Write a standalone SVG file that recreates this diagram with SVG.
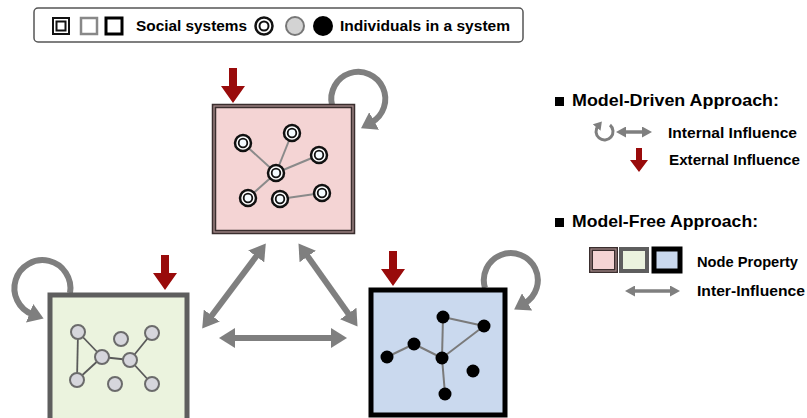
<svg xmlns="http://www.w3.org/2000/svg" width="807" height="418" viewBox="0 0 807 418">
<defs>
<style>
text{font-family:"Liberation Sans",Arial,sans-serif;font-weight:bold;fill:#000}
.lt{font-size:15.5px}
.hd{font-size:17px}
.ll{font-size:15px}
.inter{stroke:#7f7f7f;stroke-width:6;fill:none;marker-start:url(#bigHead);marker-end:url(#bigHead)}
.small{stroke:#7f7f7f;stroke-width:3.5;fill:none;marker-start:url(#smHead);marker-end:url(#smHead)}
.loop{stroke:#7f7f7f;stroke-width:6;fill:none;marker-end:url(#loopHead)}
.pe{stroke:#8a8a8a;stroke-width:2}
.ge{stroke:#5a5a5a;stroke-width:1.8}
.be{stroke:#7a7a7a;stroke-width:2}
.gn{fill:#d6d6dc;stroke:#6b6b6b;stroke-width:2}
.bn{fill:#000}
.red{fill:#990b0b}
</style>
<marker id="bigHead" viewBox="0 0 16 20" refX="3" refY="10" markerWidth="16" markerHeight="20" markerUnits="userSpaceOnUse" orient="auto-start-reverse"><path d="M0,0 L16,10 L0,20 Z" fill="#7f7f7f"/></marker>
<marker id="smHead" viewBox="0 0 10 11" refX="2" refY="5.5" markerWidth="10" markerHeight="11" markerUnits="userSpaceOnUse" orient="auto-start-reverse"><path d="M0,0 L10,5.5 L0,11 Z" fill="#7f7f7f"/></marker>
<marker id="loopHead" viewBox="0 0 15 20" refX="3" refY="10" markerWidth="15" markerHeight="20" markerUnits="userSpaceOnUse" orient="auto"><path d="M0,0 L15,10 L0,20 Z" fill="#7f7f7f"/></marker>
<marker id="tinyHead" viewBox="0 0 8 10" refX="2" refY="5" markerWidth="8" markerHeight="10" markerUnits="userSpaceOnUse" orient="auto"><path d="M0,0 L8,5 L0,10 Z" fill="#7f7f7f"/></marker>
<path id="redArrow" d="M-4,-35 L4,-35 L4,-17 L12,-17 L0,0 L-12,-17 L-4,-17 Z"/>
<g id="dbl"><circle r="8" fill="#fff" stroke="#111" stroke-width="2.5"/><circle r="4.3" fill="#f4fbff" stroke="#111" stroke-width="1.8"/></g>
</defs>

<!-- top legend -->
<g id="legend-top">
<rect x="34" y="8" width="489" height="34" rx="4" fill="#fff" stroke="#555" stroke-width="1.5"/>
<rect x="53" y="18" width="16" height="16" fill="none" stroke="#111" stroke-width="2"/>
<rect x="56.5" y="21.5" width="9" height="9" fill="none" stroke="#111" stroke-width="2"/>
<rect x="81" y="18" width="16" height="16" fill="none" stroke="#888" stroke-width="2.5"/>
<rect x="106" y="18" width="16" height="16" fill="none" stroke="#000" stroke-width="3"/>
<text class="lt" x="136" y="31" textLength="111" lengthAdjust="spacingAndGlyphs">Social systems</text>
<circle cx="264" cy="26" r="8.5" fill="#fff" stroke="#111" stroke-width="2.5"/>
<circle cx="264" cy="26" r="4.5" fill="#fff" stroke="#111" stroke-width="2"/>
<circle cx="295" cy="26" r="9" fill="#d3d3d3" stroke="#777" stroke-width="2"/>
<circle cx="323" cy="26" r="10" fill="#000"/>
<text class="lt" x="340" y="31" textLength="170" lengthAdjust="spacingAndGlyphs">Individuals in a system</text>
</g>

<!-- connectors -->
<g id="connectors">
<path class="inter" d="M210,318 L258,254"/>
<path class="inter" d="M306,254 L350,316"/>
<path class="inter" d="M232,338 L334,338"/>
</g>

<!-- pink system -->
<g id="system-pink">
<path class="loop" d="M332,105 A27,27 0 1 1 371.5,122.4"/>
<rect x="214" y="106" width="139" height="126" fill="#f4d4d4" stroke="#3a2e2e" stroke-width="4.5"/>
<rect x="214" y="106" width="139" height="126" fill="none" stroke="#a58a8a" stroke-width="1.3"/>
<use href="#redArrow" class="red" x="233" y="103"/>
<line class="pe" x1="276" y1="173" x2="243" y2="143"/>
<line class="pe" x1="276" y1="173" x2="292" y2="133"/>
<line class="pe" x1="276" y1="173" x2="319" y2="155"/>
<line class="pe" x1="276" y1="173" x2="248" y2="198"/>
<line class="pe" x1="280" y1="199" x2="322" y2="193"/>
<use href="#dbl" x="243" y="143"/>
<use href="#dbl" x="292" y="133"/>
<use href="#dbl" x="319" y="155"/>
<use href="#dbl" x="276" y="173"/>
<use href="#dbl" x="248" y="198"/>
<use href="#dbl" x="280" y="199"/>
<use href="#dbl" x="322" y="193"/>
</g>

<!-- green system -->
<g id="system-green">
<path class="loop" d="M70,293 A28,28 0 1 0 32.4,314.3"/>
<rect x="50" y="295" width="137" height="130" fill="#ebf3de" stroke="#5e5e5e" stroke-width="5"/>
<use href="#redArrow" class="red" x="165" y="290"/>
<line class="ge" x1="78" y1="332" x2="77" y2="380"/>
<line class="ge" x1="78" y1="332" x2="102" y2="357"/>
<line class="ge" x1="77" y1="380" x2="102" y2="357"/>
<line class="ge" x1="102" y1="357" x2="130" y2="360"/>
<line class="ge" x1="130" y1="360" x2="152" y2="333"/>
<line class="ge" x1="130" y1="360" x2="152" y2="384"/>
<circle class="gn" cx="78" cy="332" r="7"/>
<circle class="gn" cx="121" cy="339" r="7"/>
<circle class="gn" cx="152" cy="333" r="7"/>
<circle class="gn" cx="102" cy="357" r="7"/>
<circle class="gn" cx="130" cy="360" r="7"/>
<circle class="gn" cx="77" cy="380" r="7"/>
<circle class="gn" cx="115" cy="384" r="7"/>
<circle class="gn" cx="152" cy="384" r="7"/>
</g>

<!-- blue system -->
<g id="system-blue">
<path class="loop" d="M485,288 A27,27 0 1 1 524.5,303.4"/>
<rect x="371" y="290" width="134" height="125" fill="#cad9ee" stroke="#000" stroke-width="5"/>
<use href="#redArrow" class="red" x="393" y="286"/>
<line class="be" x1="387" y1="357" x2="414" y2="344"/>
<line class="be" x1="414" y1="344" x2="442" y2="358"/>
<line class="be" x1="442" y1="358" x2="443" y2="317"/>
<line class="be" x1="443" y1="317" x2="484" y2="326"/>
<line class="be" x1="442" y1="358" x2="484" y2="326"/>
<line class="be" x1="442" y1="358" x2="445" y2="394"/>
<circle class="bn" cx="443" cy="317" r="6.5"/>
<circle class="bn" cx="484" cy="326" r="6.5"/>
<circle class="bn" cx="414" cy="344" r="6.5"/>
<circle class="bn" cx="387" cy="357" r="6.5"/>
<circle class="bn" cx="442" cy="358" r="6.5"/>
<circle class="bn" cx="473" cy="371" r="6.5"/>
<circle class="bn" cx="445" cy="394" r="6.5"/>
</g>

<!-- right legend -->
<g id="legend-right">
<rect x="555" y="97" width="9" height="9" fill="#000"/>
<text class="hd" x="572" y="106" textLength="207" lengthAdjust="spacingAndGlyphs">Model-Driven Approach:</text>
<path d="M610,125 A8.5,8.5 0 1 1 598,126" fill="none" stroke="#7f7f7f" stroke-width="3" marker-end="url(#tinyHead)"/>
<path class="small" d="M624,132 L644,132"/>
<text class="ll" x="668" y="137.5" textLength="129" lengthAdjust="spacingAndGlyphs">Internal Influence</text>
<path d="M-3,-24 L3,-24 L3,-12 L9,-12 L0,0 L-9,-12 L-3,-12 Z" class="red" transform="translate(639,172)"/>
<text class="ll" x="669" y="165" textLength="131" lengthAdjust="spacingAndGlyphs">External Influence</text>
<rect x="555" y="218" width="9" height="9" fill="#000"/>
<text class="hd" x="572" y="227" textLength="186" lengthAdjust="spacingAndGlyphs">Model-Free Approach:</text>
<rect x="591" y="249" width="25" height="22" fill="#f4d4d4" stroke="#3a2e2e" stroke-width="4"/>
<rect x="591" y="249" width="25" height="22" fill="none" stroke="#a58a8a" stroke-width="1.2"/>
<rect x="621" y="249" width="26" height="22" fill="#ebf3de" stroke="#5e5e5e" stroke-width="4"/>
<rect x="654" y="249" width="26" height="22" fill="#cad9ee" stroke="#000" stroke-width="5"/>
<text class="ll" x="697" y="267" textLength="101" lengthAdjust="spacingAndGlyphs">Node Property</text>
<path class="small" d="M633,291 L672,291"/>
<text class="ll" x="697" y="296" textLength="108" lengthAdjust="spacingAndGlyphs">Inter-Influence</text>
</g>
</svg>
